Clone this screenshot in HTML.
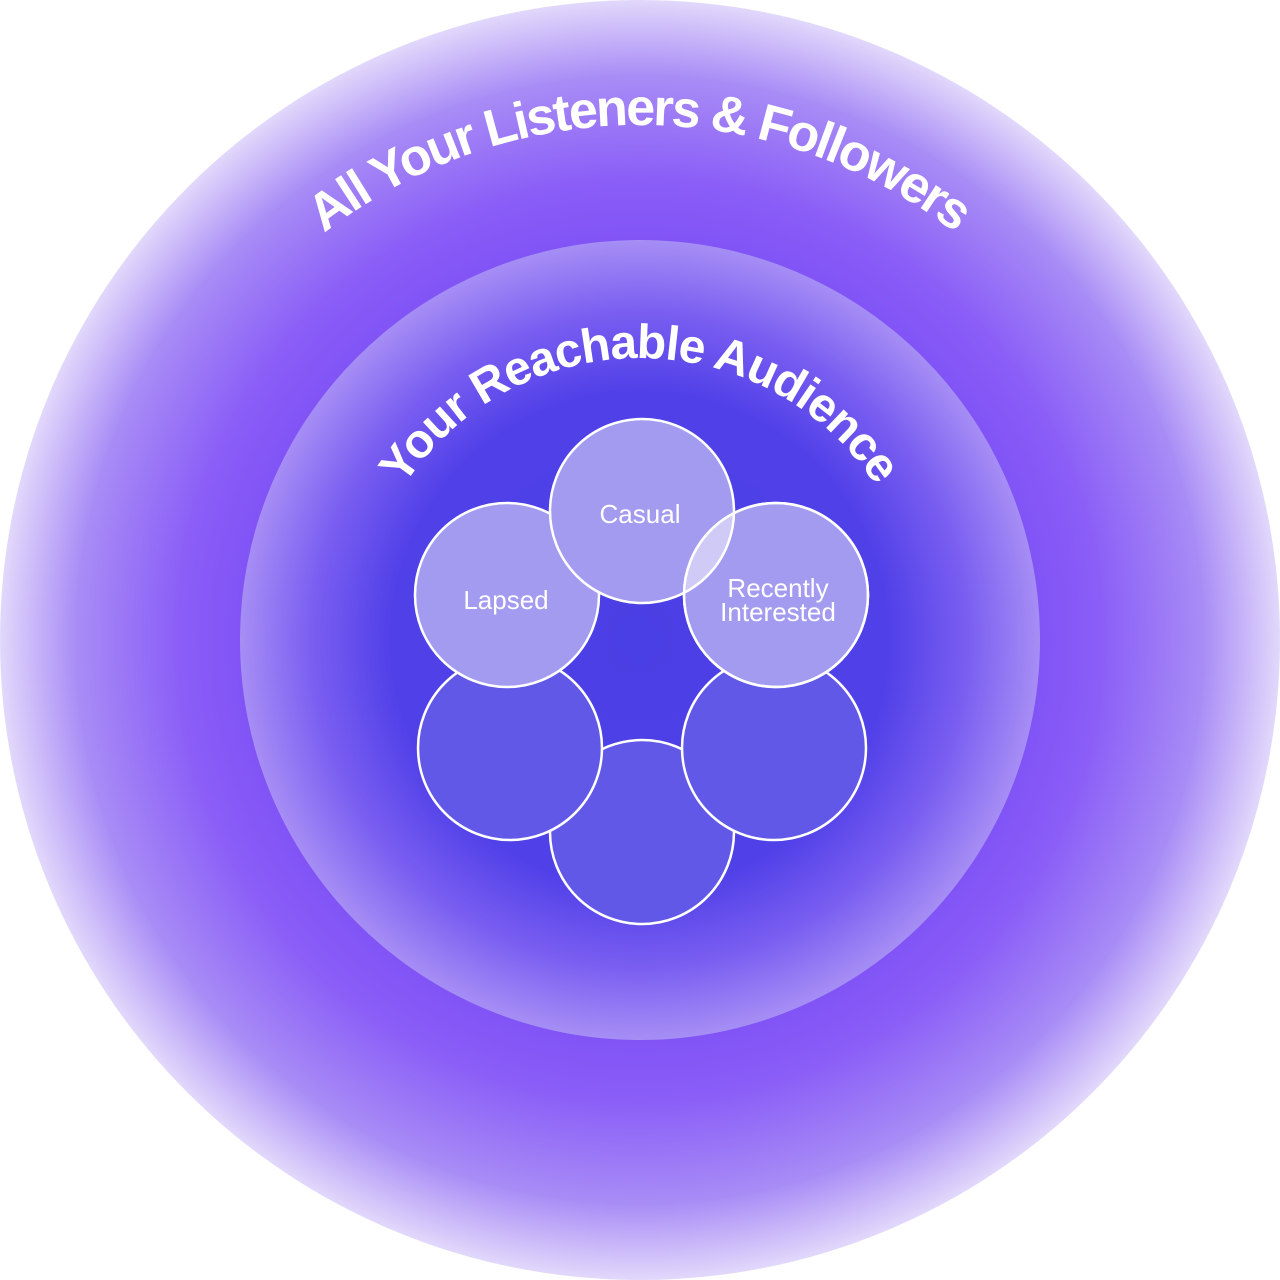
<!DOCTYPE html>
<html><head><style>html,body{margin:0;padding:0;background:#fff;width:1280px;height:1280px;overflow:hidden}</style></head>
<body>
<svg width="1280" height="1280" viewBox="0 0 1280 1280" xmlns="http://www.w3.org/2000/svg">
<defs>
<radialGradient id="outer" cx="640" cy="640" r="640" gradientUnits="userSpaceOnUse">
<stop offset="0.55" stop-color="#7a4cf5"/>
<stop offset="0.72" stop-color="#8a5ef7"/>
<stop offset="0.88" stop-color="#a88cf6"/>
<stop offset="1" stop-color="#e2d8fb"/>
</radialGradient>
<radialGradient id="inner" cx="640" cy="640" r="400" gradientUnits="userSpaceOnUse">
<stop offset="0" stop-color="#4a3fe4"/>
<stop offset="0.62" stop-color="#5040e8"/>
<stop offset="0.82" stop-color="#7a5ef1"/>
<stop offset="1" stop-color="#a68ef5"/>
</radialGradient>
<clipPath id="cCas"><circle cx="642" cy="511" r="92"/></clipPath>
<clipPath id="cRec"><circle cx="776" cy="595" r="92"/></clipPath>
<path id="arcO" d="M 125,640 A 515 515 0 0 1 1155,640"/>
<path id="arcI" d="M 358,640 A 282 282 0 0 1 922,640"/>
</defs>
<circle cx="640" cy="640" r="640" fill="url(#outer)"/>
<circle cx="640" cy="640" r="400" fill="url(#inner)"/>
<text font-family="Liberation Sans, sans-serif" font-weight="bold" font-size="52" fill="#fff"><textPath href="#arcO" startOffset="50%" text-anchor="middle" textLength="680" lengthAdjust="spacing">All Your Listeners &amp; Followers</textPath></text>
<text font-family="Liberation Sans, sans-serif" font-weight="bold" font-size="48" fill="#fff"><textPath href="#arcI" startOffset="50%" text-anchor="middle" textLength="560" lengthAdjust="spacing">Your Reachable Audience</textPath></text>
<g stroke="#fff" stroke-width="2.5">
<circle cx="642" cy="832" r="92" fill="#6158e8"/>
<circle cx="510" cy="748" r="92" fill="#6158e8"/>
<circle cx="774" cy="748" r="92" fill="#6158e8"/>
<circle cx="507" cy="595" r="92" fill="#a39bef"/>
<circle cx="642" cy="511" r="92" fill="#a39bef"/>
<circle cx="776" cy="595" r="92" fill="#a39bef"/>
<circle cx="776" cy="595" r="92" fill="#cfcaf6" stroke="none" clip-path="url(#cCas)"/>
<circle cx="642" cy="511" r="92" fill="none" clip-path="url(#cRec)"/>
<circle cx="776" cy="595" r="92" fill="none"/>
</g>
<g font-family="Liberation Sans, sans-serif" font-size="26" fill="#fff" text-anchor="middle">
<text x="640" y="523">Casual</text>
<text x="506" y="609">Lapsed</text>
<text x="778" y="597">Recently</text>
<text x="778" y="621">Interested</text>
</g>
</svg>
</body></html>
